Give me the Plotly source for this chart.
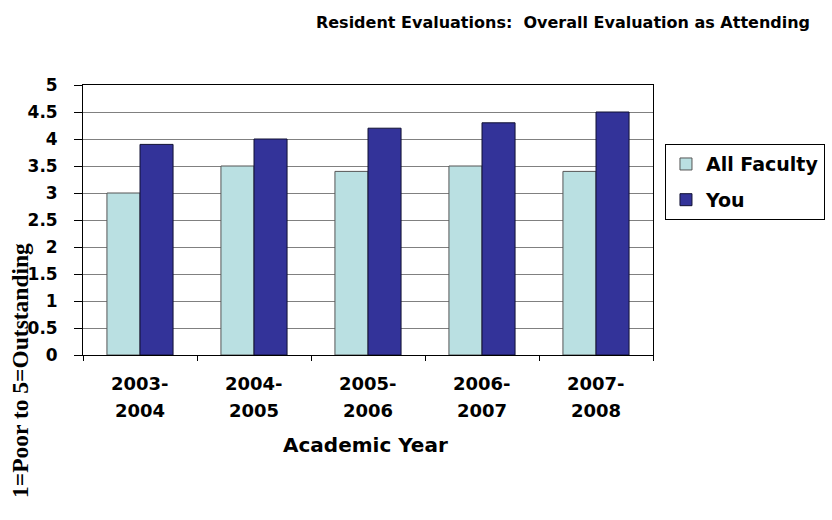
import plotly.graph_objects as go

year_start = ["2003-", "2004-", "2005-", "2006-", "2007-"]
year_end = ["2004", "2005", "2006", "2007", "2008"]
all_faculty = [3.0, 3.5, 3.4, 3.5, 3.4]
you = [3.9, 4.0, 4.2, 4.3, 4.5]
y_ticks = [0, 0.5, 1, 1.5, 2, 2.5, 3, 3.5, 4, 4.5, 5]
y_labels = ["0", "0.5", "1", "1.5", "2", "2.5", "3", "3.5", "4", "4.5", "5"]

xpos = list(range(len(year_start)))
FONT = "DejaVu Sans, Arial, sans-serif"
PAD = "<span style='color:rgba(0,0,0,0)'>..</span>"

fig = go.Figure()
fig.add_trace(go.Bar(x=xpos, y=all_faculty, name="All Faculty", legendgroup="a",
                     marker=dict(color="#BAE0E2", line=dict(color="#555555", width=1))))
fig.add_trace(go.Bar(x=xpos, y=you, name="You", legendgroup="b",
                     marker=dict(color="#333399", line=dict(color="#111133", width=1))))

fig.update_layout(
    width=832, height=520,
    margin=dict(l=83, r=179, t=85, b=165, autoexpand=False),
    paper_bgcolor="white", plot_bgcolor="white",
    barmode="group", bargap=0.42, bargroupgap=0,
    font=dict(family=FONT, color="black"),
    title=dict(text="<b>Resident Evaluations:  Overall Evaluation as Attending</b>",
               font=dict(size=16, family=FONT, color="black"),
               x=563/832, xanchor="center", xref="container",
               y=1-22/520, yanchor="middle", yref="container"),
    showlegend=True,
    legend=dict(x=1.021, y=0.781, xanchor="left", yanchor="top",
                bordercolor="black", borderwidth=1, bgcolor="white",
                font=dict(size=19, family=FONT, color="black", weight="bold"),
                tracegroupgap=8, itemwidth=30),
)
fig.update_xaxes(range=[-0.5, 4.5], tickvals=xpos, showticklabels=False,
                 ticks="",
                 showline=True, linecolor="black", linewidth=1, mirror=True,
                 showgrid=False, zeroline=False,
                 minor=dict(tick0=-0.5, dtick=1, ticks="outside", ticklen=5, tickcolor="black", showgrid=False))
fig.update_yaxes(range=[0, 5], tickvals=y_ticks, ticktext=[l + PAD for l in y_labels],
                 ticks="outside", ticklen=8, tickcolor="black",
                 tickfont=dict(size=17, family=FONT, color="black", weight="bold"),
                 showline=True, linecolor="black", linewidth=1, mirror=True,
                 showgrid=True, gridcolor="#808080", gridwidth=1, zeroline=False)

for i in xpos:
    fig.add_annotation(text="<b>"+year_start[i]+"</b>", xref="x", yref="paper",
                       x=i, y=(355-383)/270, xanchor="center", yanchor="middle",
                       showarrow=False, font=dict(size=18, family=FONT, color="black"))
    fig.add_annotation(text="<b>"+year_end[i]+"</b>", xref="x", yref="paper",
                       x=i, y=(355-410)/270, xanchor="center", yanchor="middle",
                       showarrow=False, font=dict(size=18, family=FONT, color="black"))

fig.add_annotation(text="<b>Academic Year</b>", xref="paper", yref="paper",
                   x=(365-83)/570, y=(355-445)/270, xanchor="center", yanchor="middle",
                   showarrow=False, font=dict(size=20, family=FONT, color="black"))
fig.add_annotation(text="<b>1=Poor to 5=Outstanding</b>", xref="paper", yref="paper",
                   x=(20-83)/570, y=(355-371)/270, xanchor="center", yanchor="middle",
                   textangle=-90, showarrow=False,
                   font=dict(size=23.5, family="Liberation Serif, Times New Roman, serif", color="black"))

fig.write_html("out.html")
